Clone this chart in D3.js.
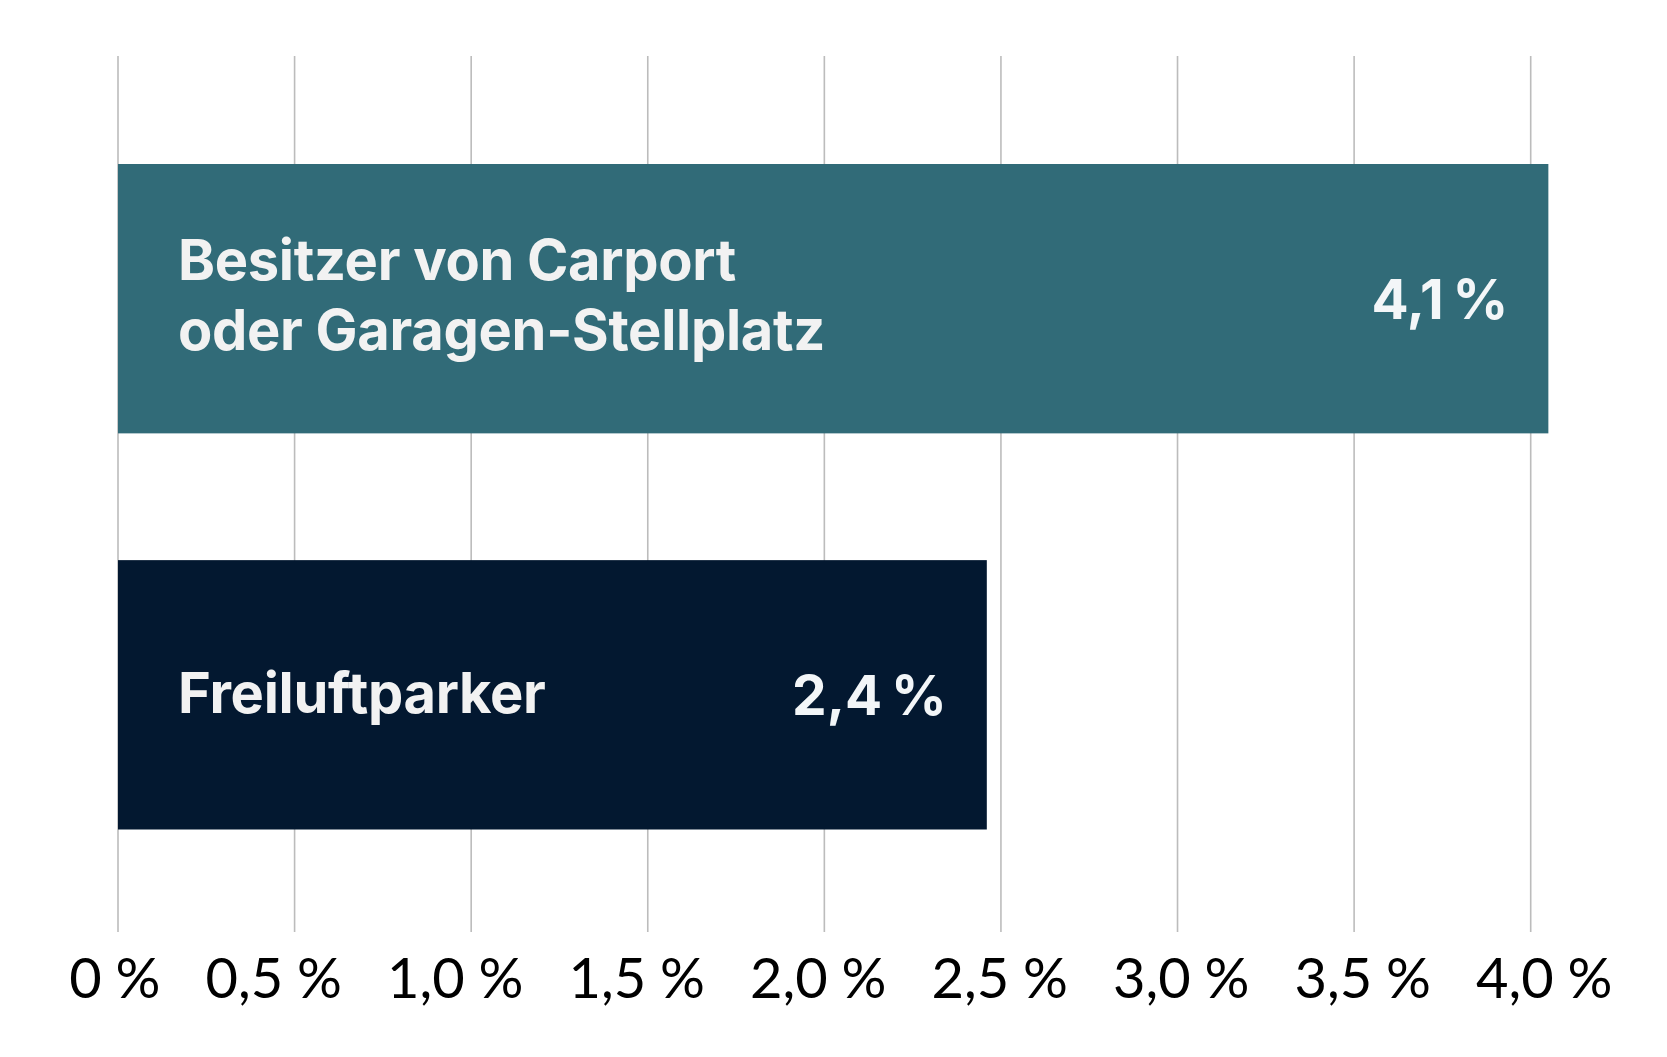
<!DOCTYPE html>
<html>
<head>
<meta charset="utf-8">
<script src="https://cdn.jsdelivr.net/npm/d3@7"></script>
<style>
  html, body { margin: 0; padding: 0; background: #ffffff; }
  svg { display: block; }
</style>
</head>
<body>
<script>
// ---- data ----
const categories = ["Besitzer von Carport oder Garagen-Stellplatz", "Freiluftparker"];
const categoryLines = [["Besitzer von Carport", "oder Garagen-Stellplatz"], ["Freiluftparker"]];
const values = [4.05, 2.46];
const valueLabels = ["4,1\u202F%", "2,4\u202F%"];
const barColors = ["#316b78", "#031830"];
const tickValues = [0, 0.5, 1.0, 1.5, 2.0, 2.5, 3.0, 3.5, 4.0];
const tickLabels = ["0\u202F%", "0,5\u202F%", "1,0\u202F%", "1,5\u202F%", "2,0\u202F%", "2,5\u202F%", "3,0\u202F%", "3,5\u202F%", "4,0\u202F%"];

const W = 1667, H = 1057;
const svg = d3.select("body").append("svg").attr("width", W).attr("height", H);

const x = d3.scaleLinear().domain([0, 4]).range([118, 1530.7]);
// tick labels in the reference are right-aligned on a slightly wider spacing
const xLabel = d3.scaleLinear().domain([0, 4]).range([160, 1612]);
const y = d3.scaleBand().domain(categories).range([164, 829.5]).paddingInner(0.32).paddingOuter(0);

// gridlines
svg.append("g")
  .selectAll("line")
  .data(tickValues)
  .join("line")
  .attr("x1", d => x(d)).attr("x2", d => x(d))
  .attr("y1", 56).attr("y2", 932)
  .attr("stroke", "#bcbcbc")
  .attr("stroke-width", 1.6);

// axis labels
const axis = d3.axisBottom(xLabel).tickValues(tickValues).tickSize(0)
  .tickFormat((d, i) => tickLabels[i]);
const gAxis = svg.append("g").attr("transform", "translate(0,958)").call(axis);
gAxis.select(".domain").remove();
gAxis.selectAll("text")
  .attr("text-anchor", "end")
  .attr("dy", null)
  .attr("y", 39.7)
  .attr("fill", "#000")
  .style("font-family", "Lato, 'Noto Sans', sans-serif")
  .style("font-size", "56px")
  .style("font-weight", 400);

// bars
const rows = categories.map((c, i) => ({ c, v: values[i], lab: valueLabels[i], col: barColors[i], lines: categoryLines[i] }));
svg.append("g")
  .selectAll("rect")
  .data(rows)
  .join("rect")
  .attr("x", x(0))
  .attr("y", d => y(d.c))
  .attr("width", d => x(d.v) - x(0))
  .attr("height", y.bandwidth())
  .attr("fill", d => d.col);

// value labels
svg.append("g")
  .selectAll("text")
  .data(rows)
  .join("text")
  .attr("x", d => x(d.v) - 40)
  .attr("y", d => y(d.c) + y.bandwidth() / 2 + 20)
  .attr("text-anchor", "end")
  .attr("fill", "#f3f6f8")
  .style("font-family", "Inter, 'Noto Sans', sans-serif")
  .style("font-weight", 700)
  .style("font-size", "55px")
  .style("letter-spacing", "-1px")
  .text(d => d.lab);

// category labels
const catG = svg.append("g")
  .selectAll("text")
  .data(rows)
  .join("text")
  .attr("x", 178)
  .attr("fill", "#f2f2f2")
  .style("font-family", "Inter, 'Noto Sans', sans-serif")
  .style("font-weight", 700)
  .style("font-size", "56px")
  .style("letter-spacing", "-0.3px");
catG.each(function (d) {
  const t = d3.select(this);
  const mid = y(d.c) + y.bandwidth() / 2;
  const n = d.lines.length;
  const startY = n === 1 ? mid + 18 : mid - 18.5;
  d.lines.forEach((ln, j) => {
    t.append("tspan").attr("x", 178).attr("y", startY + j * 70).text(ln);
  });
});
</script>
</body>
</html>
